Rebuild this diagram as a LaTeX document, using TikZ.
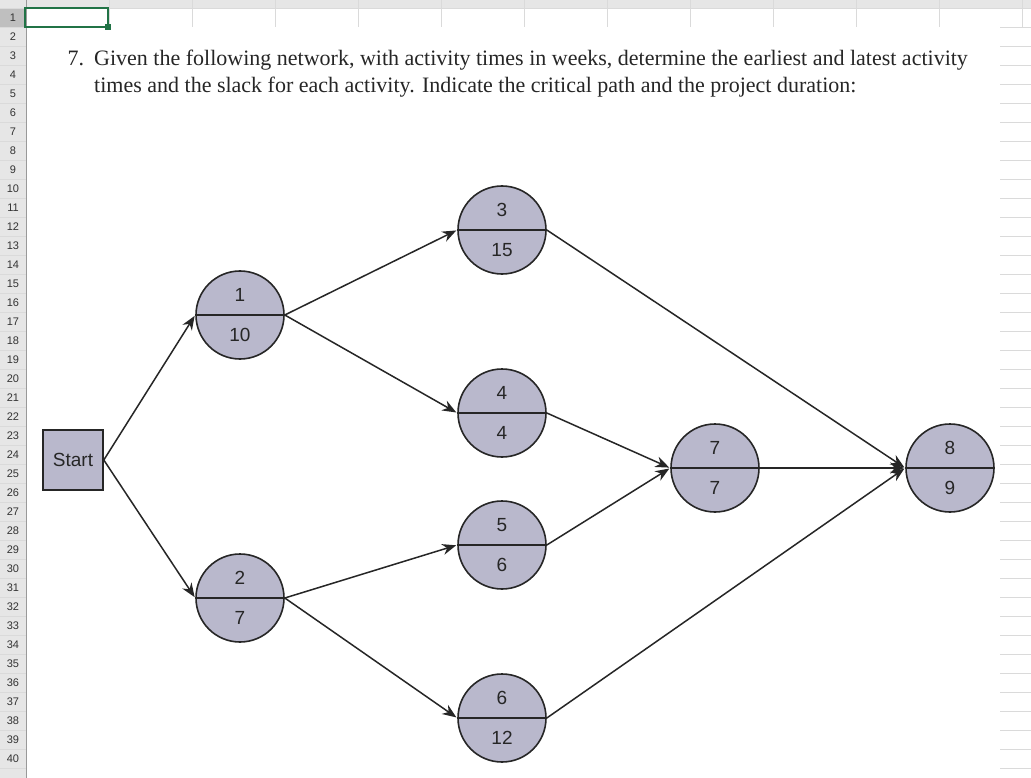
\documentclass[tikz,border=0pt]{standalone}
\usepackage{fontspec}
\setmainfont{Liberation Serif}
\newfontfamily\arial{Liberation Sans}
\usetikzlibrary{arrows.meta}
\definecolor{nodefill}{RGB}{185,184,204}
\definecolor{gridc}{RGB}{218,218,218}
\definecolor{hdr}{RGB}{230,230,230}
\definecolor{selg}{RGB}{33,115,70}
\tikzset{
  evt/.style={circle,draw=black!85,line width=1.6pt,fill=nodefill,minimum size=88pt,inner sep=0pt},
  lbl/.style={font=\arial\fontsize{19}{19}\selectfont,text=black!85},
  arr/.style={line width=1.5pt,black!85,-{Stealth[length=14pt,width=11pt]},shorten >=1pt},
  rown/.style={font=\arial\fontsize{11}{11}\selectfont,text=black!80}
}
\begin{document}
\begin{tikzpicture}[x=1pt,y=-1pt]
\useasboundingbox (0,0) rectangle (1031,778);
\fill[white] (0,0) rectangle (1031,778);
% headers
\fill[hdr] (0,0) rectangle (1031,8);
\fill[hdr] (0,0) rectangle (26,778);
\fill[black!25] (0,8.5) rectangle (26,27.5);
\foreach \i in {0,...,12}{\draw[gridc] (26+83*\i,0) -- (26+83*\i,8);}
\foreach \i in {1,...,12}{\draw[gridc] (26+83*\i,8) -- (26+83*\i,27.5);}
\foreach \i in {1,...,41}{\draw[gridc] (0,8.5+19*\i) -- (26,8.5+19*\i);
  \draw[gridc] (1000,8.5+19*\i) -- (1031,8.5+19*\i);}
\draw[gridc] (0,8.5) -- (1031,8.5);
\foreach \i in {1,...,40}{\node[rown] (r\i) at (13,18+19*\i-19) {\i};}
\draw[black!40] (26,0) -- (26,778);
\draw[selg,line width=1.8pt] (25,8) rectangle (108,27);
\fill[selg] (105,24) rectangle (111,30);
% title
\node[anchor=base west,font=\fontsize{22}{22}\selectfont,text=black!85] (num) at (64,66) {7.};
\node[anchor=base west,font=\fontsize{22}{22}\selectfont,text=black!85,inner sep=0pt] (t1) at (94,66) {Given the following network, with activity times in weeks, determine the earliest and latest activity};
\node[anchor=base west,font=\fontsize{22}{22}\selectfont,text=black!85,inner sep=0pt] (t2) at (94,93) {times and the slack for each activity. Indicate the critical path and the project duration:};
% nodes
\node[draw=black!85,line width=1.6pt,fill=nodefill,minimum width=60pt,minimum height=60pt,inner sep=0pt,lbl] (s) at (73,460) {Start};
\foreach \n/\x/\y/\a/\b in {n1/240/315/1/10, n2/240/598/2/7, n3/502/230/3/15, n4/502/413/4/4, n5/502/545/5/6, n6/502/718/6/12, n7/715/468/7/7, n8/950/468/8/9}{
  \node[evt] (\n) at (\x,\y) {};
  \draw[line width=1.6pt,black!85] (\n.west) -- (\n.east);
  \node[lbl] at (\x,\y-20) {\a};
  \node[lbl] at (\x,\y+20) {\b};
}
\draw[arr] (s.east) -- (n1.west);
\draw[arr] (s.east) -- (n2.west);
\draw[arr] (n1.east) -- (n3.west);
\draw[arr] (n1.east) -- (n4.west);
\draw[arr] (n2.east) -- (n5.west);
\draw[arr] (n2.east) -- (n6.west);
\draw[arr] (n3.east) -- (n8.west);
\draw[arr] (n4.east) -- (n7.west);
\draw[arr] (n5.east) -- (n7.west);
\draw[arr] (n7.east) -- (n8.west);
\draw[arr] (n6.east) -- (n8.west);
\end{tikzpicture}
\end{document}
